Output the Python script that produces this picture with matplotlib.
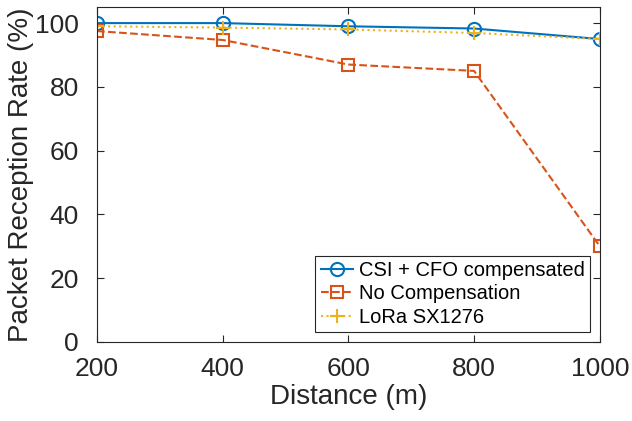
import matplotlib
matplotlib.use("Agg")
import matplotlib.pyplot as plt

plt.rcParams['font.family'] = ['Liberation Sans', 'DejaVu Sans']

distance = [200, 400, 600, 800, 1000]
csi_cfo = [100, 100, 99, 98.3, 95]
no_comp = [97.5, 94.7, 87, 85, 30]
lora = [99, 98.6, 98, 96.9, 95]

fig = plt.figure(figsize=(6.32, 4.21), dpi=100)
ax = fig.add_axes([0.1535, 0.188, 0.7955, 0.795])

ax.plot(distance, csi_cfo, '-o', color='#0072BD', lw=1.5, ms=9.5,
        mfc='none', mew=1.5, label='CSI + CFO compensated')
ax.plot(distance, no_comp, '--s', color='#D95319', lw=1.5, ms=8,
        mfc='none', mew=1.5, label='No Compensation')
ax.plot(distance, lora, ':+', color='#EDB120', lw=1.5, ms=10,
        mew=1.5, label='LoRa SX1276')

ax.set_xlim(200, 1000)
ax.set_ylim(0, 105)
ax.set_xticks(distance)
ax.set_yticks([0, 20, 40, 60, 80, 100])
ax.tick_params(direction='in', top=True, right=True, labelsize=19,
               color='#262626', labelcolor='#262626', length=5)
ax.tick_params(axis='x', pad=11)
ax.tick_params(axis='y', pad=13)
for s in ax.spines.values():
    s.set_color('#262626')
    s.set_linewidth(0.8)

ax.set_xlabel('Distance (m)', fontsize=20, color='#262626', labelpad=2)
ax.set_ylabel('Packet Reception Rate (%)', fontsize=20, color='#262626',
              labelpad=1)

leg = ax.legend(loc='lower right', fontsize=14.5, fancybox=False,
                edgecolor='#262626', framealpha=1, borderpad=0.25,
                labelspacing=0.22, handlelength=1.6, handletextpad=0.3,
                borderaxespad=0.5)
leg.get_frame().set_linewidth(0.8)

fig.savefig('out.png', dpi=100)
